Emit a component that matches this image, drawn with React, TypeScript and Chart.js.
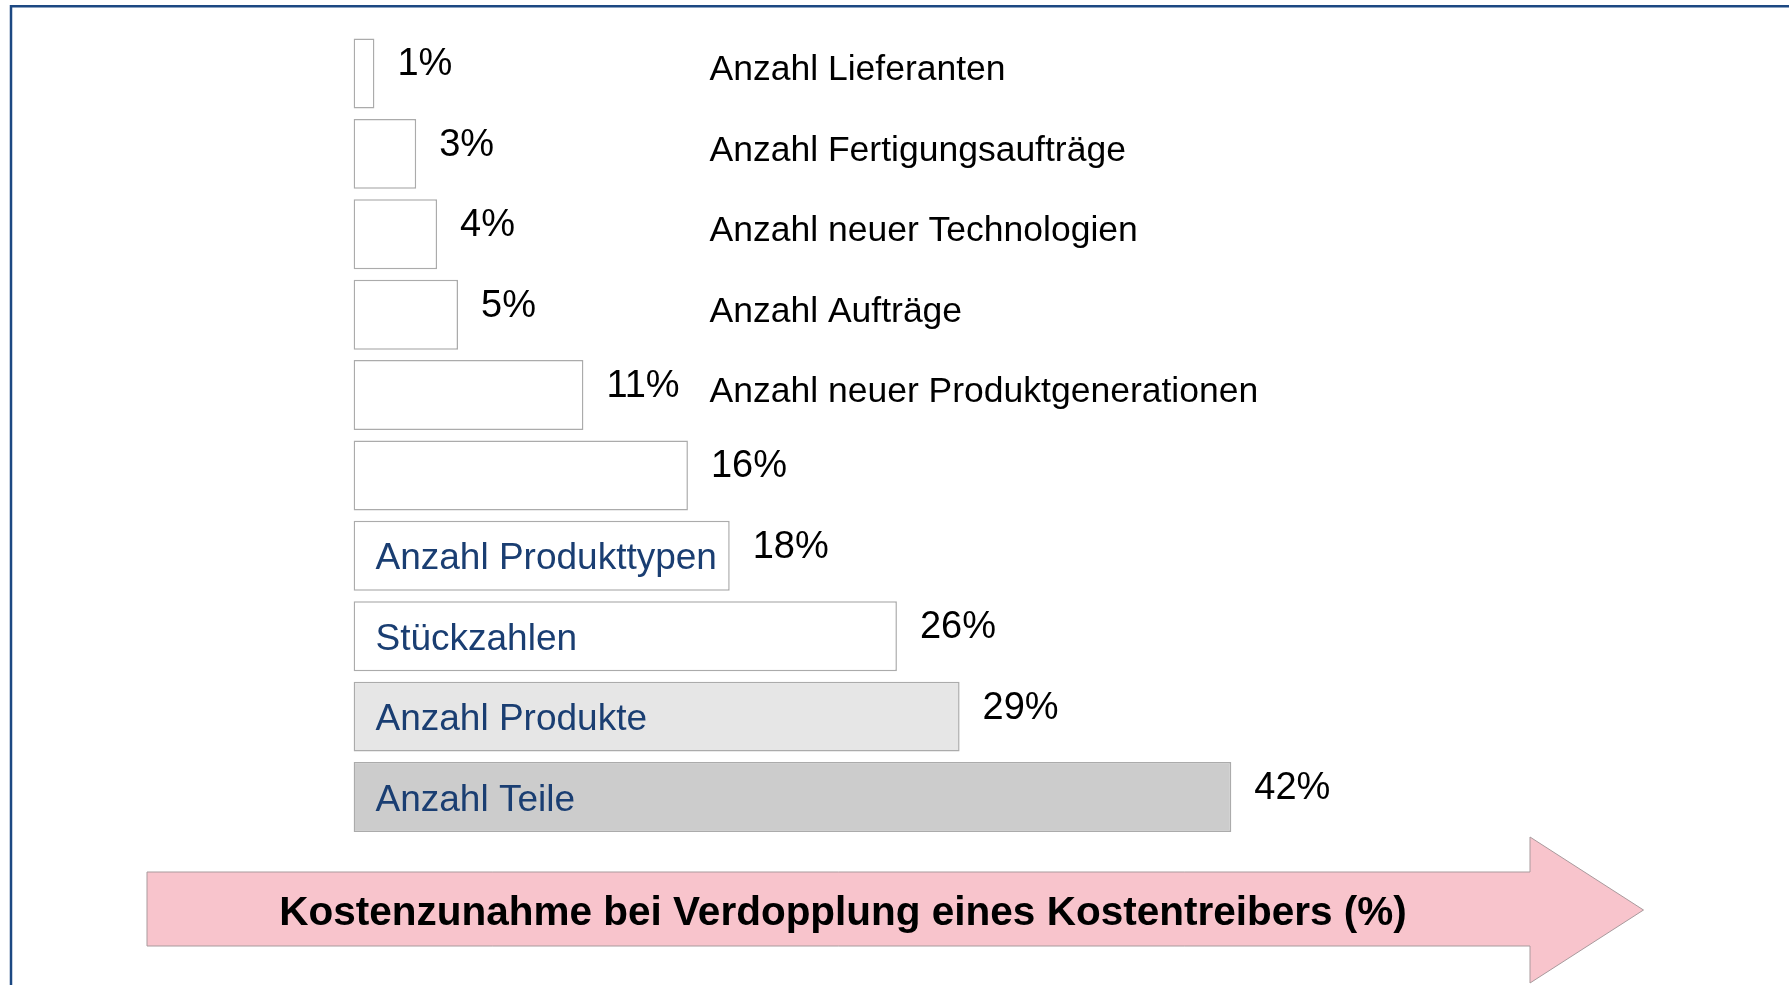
import React, { useEffect, useRef } from "react";
import { Chart, registerables } from "chart.js";

Chart.register(...registerables);

const categories = [
  "Anzahl Lieferanten",
  "Anzahl Fertigungsaufträge",
  "Anzahl neuer Technologien",
  "Anzahl Aufträge",
  "Anzahl neuer Produktgenerationen",
  "",
  "Anzahl Produkttypen",
  "Stückzahlen",
  "Anzahl Produkte",
  "Anzahl Teile",
];

const values = [1, 3, 4, 5, 11, 16, 18, 26, 29, 42];

const arrowTitle = "Kostenzunahme bei Verdopplung eines Kostentreibers (%)";

const BAR_FILLS = values.map((v, i) =>
  i === values.length - 1 ? "#CCCCCC" : i === values.length - 2 ? "#E6E6E6" : "#FFFFFF"
);

const W = 1789;
const H = 985;
const FONT = '"Liberation Sans", Arial, Helvetica, sans-serif';

const decorPlugin = {
  id: "decor",
  beforeDraw(chart: any) {
    const ctx = chart.ctx;
    ctx.save();
    ctx.fillStyle = "#FFFFFF";
    ctx.fillRect(0, 0, chart.width, chart.height);
    // slide frame
    ctx.strokeStyle = "#1C4882";
    ctx.lineWidth = 2.5;
    ctx.beginPath();
    ctx.moveTo(11, chart.height + 5);
    ctx.lineTo(11, 6.2);
    ctx.lineTo(chart.width + 5, 6.2);
    ctx.stroke();
    ctx.restore();
  },
  afterDatasetsDraw(chart: any) {
    const ctx = chart.ctx;
    const meta = chart.getDatasetMeta(0);
    const area = chart.chartArea;
    ctx.save();
    meta.data.forEach((bar: any, i: number) => {
      const v = values[i];
      // value label
      ctx.font = `38px ${FONT}`;
      ctx.fillStyle = "#000000";
      ctx.textAlign = "left";
      ctx.textBaseline = "alphabetic";
      ctx.fillText(`${v}%`, bar.x + 23, bar.y + 2);
      // category label
      const label = categories[i];
      if (!label) return;
      if (v >= 18) {
        ctx.font = `37px ${FONT}`;
        ctx.fillStyle = "#1A3E72";
        ctx.fillText(label, bar.base + 22, bar.y + 13.5);
      } else {
        ctx.font = `35.5px ${FONT}`;
        ctx.fillStyle = "#000000";
        ctx.fillText(label, area.left + 356, bar.y + 7);
      }
    });

    // bottom arrow
    const x0 = 147, x1 = 1530, tip = 1643.5;
    const sTop = 872, sBot = 946, hTop = 837, hBot = 983, mid = 910;
    ctx.beginPath();
    ctx.moveTo(x0, sTop);
    ctx.lineTo(x1, sTop);
    ctx.lineTo(x1, hTop);
    ctx.lineTo(tip, mid);
    ctx.lineTo(x1, hBot);
    ctx.lineTo(x1, sBot);
    ctx.lineTo(x0, sBot);
    ctx.closePath();
    ctx.fillStyle = "#F8C4CC";
    ctx.fill();
    ctx.strokeStyle = "#A99A9D";
    ctx.lineWidth = 1;
    ctx.stroke();

    ctx.font = `bold 40.5px ${FONT}`;
    ctx.fillStyle = "#000000";
    ctx.textAlign = "center";
    ctx.textBaseline = "alphabetic";
    ctx.fillText(arrowTitle, 843, 925);
    ctx.restore();
  },
};

export default function App() {
  const canvasRef = useRef<HTMLCanvasElement | null>(null);

  useEffect(() => {
    document.body.style.margin = "0";
    document.body.style.background = "#FFFFFF";
    const canvas = canvasRef.current;
    if (!canvas) return;
    const chart = new Chart(canvas, {
      type: "bar",
      data: {
        labels: categories,
        datasets: [
          {
            data: values,
            backgroundColor: BAR_FILLS,
            borderColor: "#ABABAB",
            borderWidth: 1.5,
            borderSkipped: false,
            categoryPercentage: 0.87,
            barPercentage: 1,
          },
        ],
      },
      options: {
        indexAxis: "y",
        responsive: false,
        animation: false,
        devicePixelRatio: 1,
        layout: {
          padding: { left: 353.5, right: 181.5, top: 33.3, bottom: 147.8 },
        },
        scales: {
          x: { display: false, min: 0, max: 60 },
          y: { display: false },
        },
        plugins: {
          legend: { display: false },
          tooltip: { enabled: false },
        },
      },
      plugins: [decorPlugin],
    } as any);
    return () => chart.destroy();
  }, []);

  return (
    <div style={{ width: W, height: H, overflow: "hidden" }}>
      <canvas ref={canvasRef} width={W} height={H} style={{ display: "block" }} />
    </div>
  );
}
